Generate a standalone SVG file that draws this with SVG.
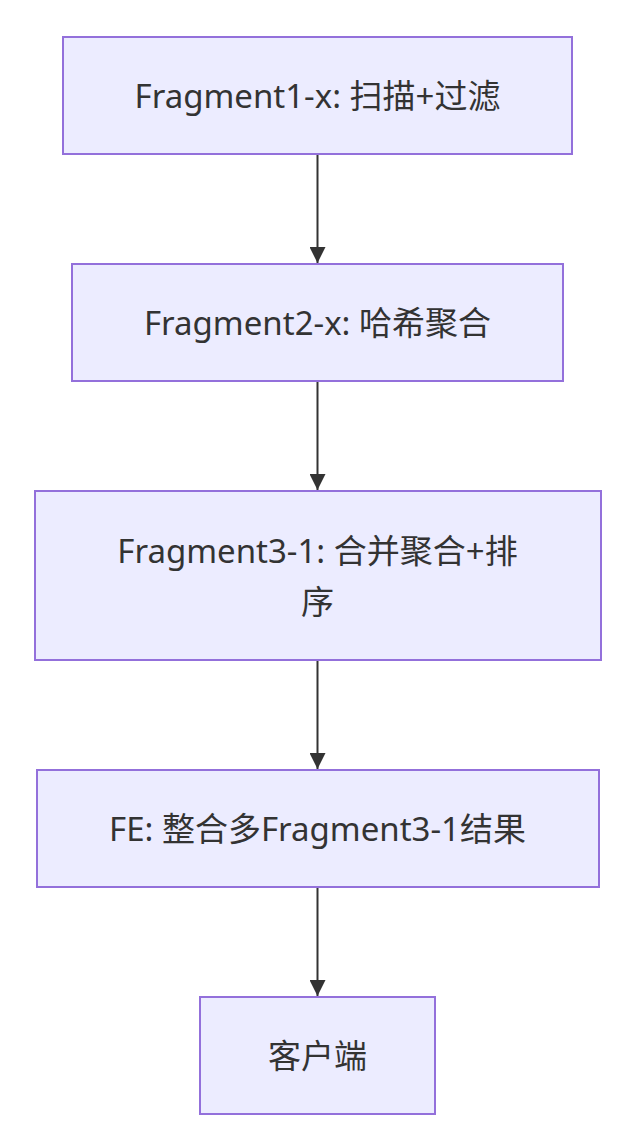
<svg xmlns="http://www.w3.org/2000/svg" width="618" height="1148" viewBox="0 0 618 1148">
<style>
.n{fill:#ECECFF;stroke:#9370DB;stroke-width:2}
.t{font-family:"Noto Sans","Noto Sans CJK SC",sans-serif;font-size:33px;fill:#333;text-anchor:middle;dominant-baseline:central}
.e{stroke:#333;stroke-width:2;fill:none;marker-end:url(#a)}
</style>
<defs><marker id="a" viewBox="0 0 10 10" refX="10" refY="5" markerWidth="16" markerHeight="16" markerUnits="userSpaceOnUse" orient="auto"><path d="M0,0L10,5L0,10z" fill="#333"/></marker></defs>
<rect width="618" height="1148" fill="#fff"/>
<g id="edges">
<path class="e" d="M317.5,155V263"/>
<path class="e" d="M317.5,382V490"/>
<path class="e" d="M317.5,661V769"/>
<path class="e" d="M317.5,888V996"/>
</g>
<g id="n1"><rect class="n" x="63" y="37" width="509" height="117"/><text class="t" x="317.5" y="95.5">Fragment1-x: 扫描+过滤</text></g>
<g id="n2"><rect class="n" x="72" y="264" width="491" height="117"/><text class="t" x="317.5" y="322.5">Fragment2-x: 哈希聚合</text></g>
<g id="n3"><rect class="n" x="35" y="491" width="566" height="169"/><text class="t" x="317.5" y="550">Fragment3-1: 合并聚合+排</text><text class="t" x="317.5" y="601">序</text></g>
<g id="n4"><rect class="n" x="37" y="770" width="562" height="117"/><text class="t" x="317.5" y="828.5">FE: 整合多Fragment3-1结果</text></g>
<g id="n5"><rect class="n" x="200" y="997" width="235" height="117"/><text class="t" x="317.5" y="1055.5">客户端</text></g>
</svg>
